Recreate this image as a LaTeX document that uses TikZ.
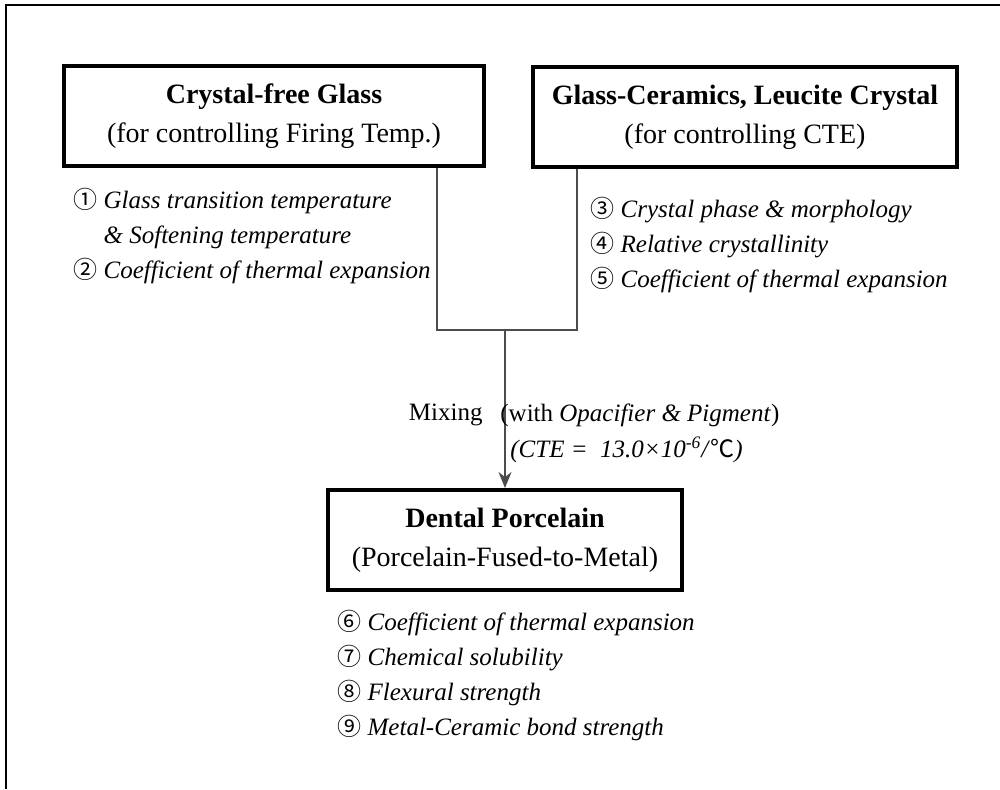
\documentclass[tikz,border=0pt]{standalone}
\usepackage{fontspec}
\setmainfont{Liberation Serif}
\newfontfamily\cjk{Noto Sans CJK KR}
\usetikzlibrary{arrows.meta, positioning}

\tikzstyle{material} = [rectangle, draw=black, line width=2pt, text centered, align=center, minimum height=50pt, font=\fontsize{14}{19.5}\selectfont]
\tikzstyle{props} = [align=left, inner sep=0pt, font=\fontsize{12.5}{17.5}\selectfont\itshape]
\tikzstyle{label} = [inner sep=0pt, font=\fontsize{12.5}{17.5}\selectfont]
\tikzstyle{line} = [line width=0.8pt, draw=black!70]
\tikzstyle{arrow} = [line width=0.8pt, draw=black!70, -{Stealth[length=8pt, width=6.5pt, inset=2.5pt]}]

\newcommand{\cnum}[1]{{\cjk\fontsize{12}{17.5}\selectfont #1}}

\begin{document}
\begin{tikzpicture}[x=0.5pt, y=-0.5pt]

\useasboundingbox (0,0) rectangle (1000,789);
\draw [line width=1pt] (6,789) -- (6,5) -- (1000,5);

\node (glass) [material, minimum width=210pt] at (274,116) {\textbf{Crystal-free Glass}\\(for controlling Firing Temp.)};
\node (ceramic) [material, minimum width=212pt] at (745,117) {\textbf{Glass-Ceramics, Leucite Crystal}\\(for controlling CTE)};
\node (porcelain) [material, minimum width=177pt] at (505,540) {\textbf{Dental Porcelain}\\(Porcelain-Fused-to-Metal)};

\node (glassprops) [props, anchor=north west, below right=10pt and 5.5pt of glass.south west] {\cnum{①} Glass transition temperature\\\phantom{\cnum{①}} \& Softening temperature\\\cnum{②} Coefficient of thermal expansion};
\node (ceramicprops) [props, anchor=north west, below right=14pt and 29.5pt of ceramic.south west] {\cnum{③} Crystal phase \& morphology\\\cnum{④} Relative crystallinity\\\cnum{⑤} Coefficient of thermal expansion};
\node (porcelainprops) [props, anchor=north west, below right=9pt and 5.5pt of porcelain.south west] {\cnum{⑥} Coefficient of thermal expansion\\\cnum{⑦} Chemical solubility\\\cnum{⑧} Flexural strength\\\cnum{⑨} Metal-Ceramic bond strength};

\coordinate (jl) at (437,330);
\coordinate (jr) at (577,330);
\coordinate (mix) at (505,330);

\draw [line] (glass.south -| jl) -- (jl) -- (jr) -- (ceramic.south -| jr);
\draw [arrow] (mix) -- (porcelain.north);

\node (mixing) [label, anchor=east] at (483,415) {Mixing};
\node (additive) [label, anchor=west] at (500,415) {(with \textit{Opacifier \& Pigment})};
\node (cte) [label, anchor=west] at (510,450) {\textit{(CTE = \ 13.0×10\textsuperscript{-6}/}\cnum{℃}\textit{)}};

\end{tikzpicture}
\end{document}
